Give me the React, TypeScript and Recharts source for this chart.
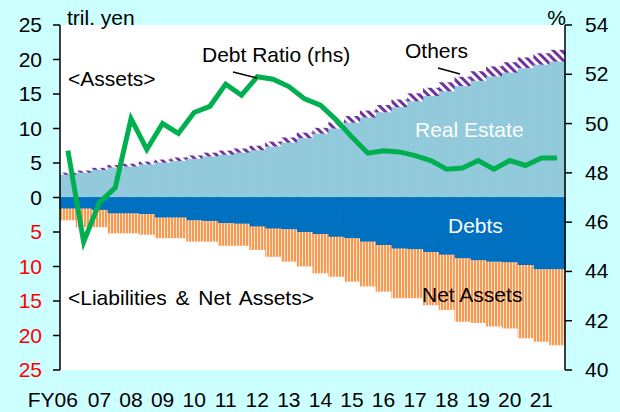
import React from "react";
import { ComposedChart, Bar, Line, XAxis, YAxis, CartesianGrid } from "recharts";

// fiscal years, two half-year bars per year
const years = ["FY06", "07", "08", "09", "10", "11", "12", "13", "14", "15", "16", "17", "18", "19", "20", "21"];

// tril. yen, assets (positive side)
const realEstate = [3.3, 3.6, 4.0, 4.35, 4.5, 4.8, 5.05, 5.3, 5.6, 5.95, 6.2, 6.5, 6.85, 7.4, 7.95, 8.6, 9.25, 10.0, 10.85, 11.6, 12.35, 13.1, 13.95, 14.7, 15.4, 16.15, 16.9, 17.55, 18.1, 18.75, 19.25, 19.7];
const others = [0.3, 0.3, 0.3, 0.35, 0.4, 0.4, 0.45, 0.5, 0.5, 0.55, 0.6, 0.6, 0.65, 0.7, 0.75, 0.8, 0.85, 0.9, 0.95, 1.0, 1.05, 1.1, 1.15, 1.2, 1.3, 1.35, 1.4, 1.45, 1.5, 1.55, 1.65, 1.7];

// tril. yen, liabilities & net assets (drawn below zero)
const debts = [1.6, 1.6, 1.8, 2.3, 2.3, 2.4, 2.9, 2.9, 3.3, 3.4, 3.7, 3.8, 4.2, 4.5, 4.6, 5.0, 5.3, 5.7, 5.9, 6.4, 6.9, 7.4, 7.5, 7.9, 8.3, 8.8, 9.1, 9.3, 9.4, 9.8, 10.4, 10.4];
const netAssets = [1.7, 2.7, 2.5, 2.9, 2.9, 3.0, 3.0, 3.0, 3.1, 3.0, 3.3, 3.2, 3.4, 4.1, 4.7, 5.0, 5.7, 5.8, 6.3, 6.5, 6.75, 7.2, 7.1, 7.7, 8.0, 9.2, 9.1, 9.4, 9.6, 10.6, 10.5, 11.0];

// %, right axis
const debtRatio = [48.9, 45.2, 46.8, 47.4, 50.2, 48.95, 50.0, 49.6, 50.45, 50.7, 51.6, 51.15, 51.9, 51.8, 51.5, 51.0, 50.75, 50.15, 49.45, 48.8, 48.9, 48.85, 48.7, 48.5, 48.15, 48.2, 48.5, 48.15, 48.5, 48.3, 48.6, 48.6];

const leftTicks = [-25, -20, -15, -10, -5, 0, 5, 10, 15, 20, 25];
const rightTicks = [40, 42, 44, 46, 48, 50, 52, 54];

const data = realEstate.map((v, i) => ({
  pos: i + 0.5,
  realEstate: v,
  others: others[i],
  debts: -debts[i],
  netAssets: -netAssets[i],
  ratio: debtRatio[i],
}));

const yearEdges = years.map((_, k) => k * 2).concat(years.length * 2);
const yearLabelPos = years.map((_, k) => k * 2 + 0.5);

const FONT = "'Liberation Sans', Arial, sans-serif";

const LeftTick = (props: any) => {
  const { x, y, payload } = props;
  const v = payload.value;
  return (
    <text x={x} y={y} dy={7} textAnchor="end" fontSize={21} fontFamily={FONT} fill={v < 0 ? "#FF0000" : "#000"}>
      {Math.abs(v)}
    </text>
  );
};

const RightTick = (props: any) => {
  const { x, y, payload } = props;
  return (
    <text x={x} y={y} dy={7} textAnchor="start" fontSize={21} fontFamily={FONT} fill="#000">
      {payload.value}
    </text>
  );
};

const YearTick = (props: any) => {
  const { x, y, payload } = props;
  const idx = Math.round((payload.value - 0.5) / 2);
  const first = idx === 0;
  return (
    <text x={first ? x + 10 : x} y={y + 37} textAnchor={first ? "end" : "middle"} fontSize={21} fontFamily={FONT} fill="#000">
      {years[idx]}
    </text>
  );
};

export default function App() {
  return (
    <div style={{ position: "fixed", top: 0, left: 0, width: 620, height: 412, background: "#CCFFFF" }}>
      <ComposedChart width={620} height={412} data={data} stackOffset="sign" barCategoryGap={0} barGap={0}
        margin={{ top: 25, right: 0, bottom: 0, left: 0 }}>
        <CartesianGrid xAxisId="marks" yAxisId="left" horizontal={false} vertical={false} fill="#FFFFFF" />
        <XAxis xAxisId="marks" dataKey="pos" type="number" domain={[0, 32]} ticks={yearEdges} interval={0}
          height={0} tickSize={6} tickFormatter={() => ""} axisLine={{ stroke: "#000", strokeWidth: 1.5 }}
          tickLine={{ stroke: "#000", strokeWidth: 1.5 }} />
        <XAxis xAxisId="lab" dataKey="pos" type="number" domain={[0, 32]} ticks={yearLabelPos} interval={0}
          height={42} tickSize={0} tickMargin={0} axisLine={false} tickLine={false} tick={<YearTick />} />
        <YAxis yAxisId="left" domain={[-25, 25]} ticks={leftTicks} interval={0} width={60} tickSize={7} tickMargin={11}
          axisLine={{ stroke: "#000", strokeWidth: 1.5 }} tickLine={{ stroke: "#000", strokeWidth: 1.5 }} tick={<LeftTick />} />
        <YAxis yAxisId="right" orientation="right" domain={[40, 54]} ticks={rightTicks} interval={0} width={55} tickSize={7} tickMargin={13}
          axisLine={{ stroke: "#000", strokeWidth: 1.5 }} tickLine={{ stroke: "#000", strokeWidth: 1.5 }} tick={<RightTick />} />
        <Bar xAxisId="marks" yAxisId="left" dataKey="realEstate" stackId="a" fill="#92CADC" stroke="#92CADC" strokeWidth={0.8} isAnimationActive={false} />
        <Bar xAxisId="marks" yAxisId="left" dataKey="others" stackId="a" fill="url(#othersPat)" isAnimationActive={false} />
        <Bar xAxisId="marks" yAxisId="left" dataKey="debts" stackId="a" fill="#0070C0" stroke="#0070C0" strokeWidth={0.8} isAnimationActive={false} />
        <Bar xAxisId="marks" yAxisId="left" dataKey="netAssets" stackId="a" fill="url(#netPat)" isAnimationActive={false} />
        <Line xAxisId="lab" yAxisId="right" dataKey="ratio" type="linear" stroke="#00B050" strokeWidth={5}
          dot={false} activeDot={false} isAnimationActive={false} />
      </ComposedChart>
      <svg width={620} height={412} style={{ position: "absolute", top: 0, left: 0, pointerEvents: "none" }}
        fontFamily={FONT} fontSize={21}>
        <defs>
          <pattern id="othersPat" patternUnits="userSpaceOnUse" width={6} height={6} patternTransform="rotate(-45)">
            <rect width={6} height={6} fill="#FFFFFF" />
            <rect width={3} height={6} fill="#7030A0" />
          </pattern>
          <pattern id="netPat" patternUnits="userSpaceOnUse" width={3} height={3}>
            <rect width={3} height={3} fill="#FFE3CC" />
            <rect width={2} height={3} fill="#F99A52" />
          </pattern>
        </defs>
        <text x={67} y={25}>tril. yen</text>
        <text x={566} y={25} textAnchor="end">%</text>
        <text x={68} y={86}>&lt;Assets&gt;</text>
        <text x={202} y={62}>Debt Ratio (rhs)</text>
        <line x1={233} y1={72} x2={257} y2={78} stroke="#000" strokeWidth={1.5} />
        <text x={405} y={58}>Others</text>
        <line x1={438} y1={68} x2={460} y2={74} stroke="#000" strokeWidth={1.5} />
        <text x={415} y={137} fill="#FFFFFF">Real Estate</text>
        <text x={448} y={233} fill="#FFFFFF">Debts</text>
        <text x={422} y={302}>Net Assets</text>
        <text x={68} y={305} wordSpacing={3}>&lt;Liabilities &amp; Net Assets&gt;</text>
      </svg>
    </div>
  );
}
